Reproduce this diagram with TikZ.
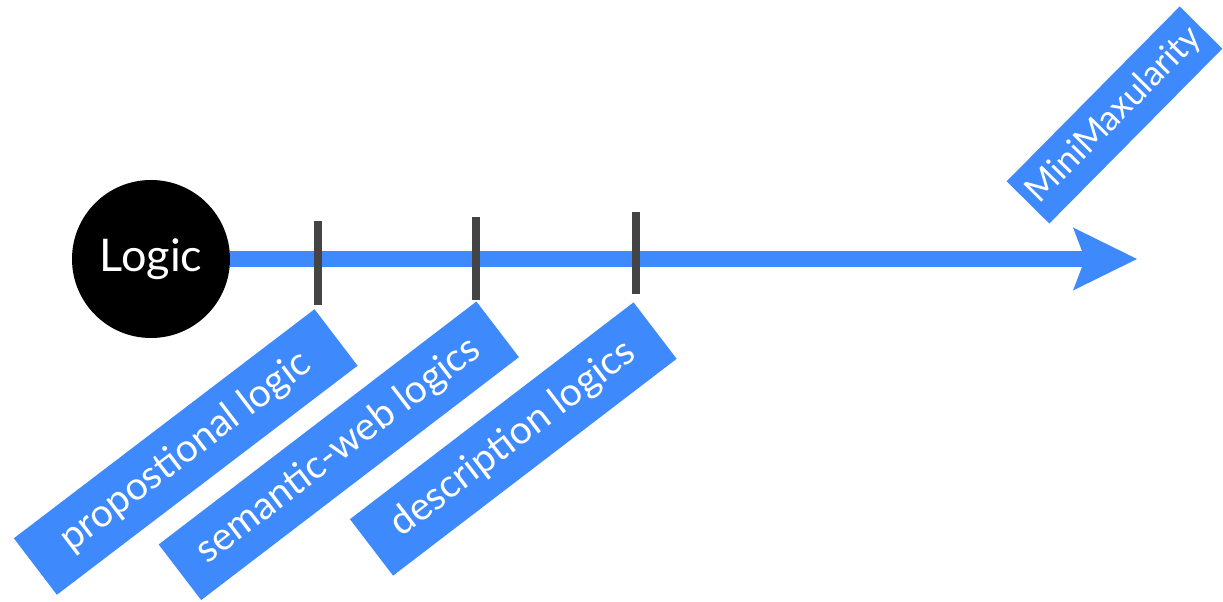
\documentclass[tikz,border=0pt]{standalone}
\usepackage{fontspec}
\newfontfamily\labelfont{Lato}
\usetikzlibrary{arrows.meta,positioning,shapes}
\usepackage{xcolor}
\definecolor{timelineblue}{RGB}{62,138,253}
\definecolor{tickgray}{RGB}{68,68,68}

\begin{document}
\begin{tikzpicture}[x=1pt, y=1pt,
    logicnode/.style={
        circle,
        fill=black,
        text=white,
        inner sep=0pt,
        minimum size=158pt,
        font=\labelfont\fontsize{45}{48}\selectfont
    },
    tickmark/.style={
        rectangle,
        fill=tickgray,
        inner sep=0pt,
        minimum width=8pt
    },
    tagbox/.style={
        rectangle,
        fill=timelineblue,
        text=white,
        inner sep=0pt,
        minimum height=71pt,
        font=\labelfont\fontsize{39}{42}\selectfont
    }]
    \useasboundingbox (0, 0) rectangle (1223, 602);

    \node (logic) [logicnode, shift={(151, 343)}]
    {
        Logic
    };

    \coordinate (tip) at (1137, 343);

    \draw[line width=16pt, timelineblue, -{Stealth[length=64pt, width=63pt, inset=12pt, line width=0pt]}] (logic) -- (tip);



    \node (tick_one) [tickmark, minimum height=84pt, shift={(318, 339)}] {};
    \node (tick_two) [tickmark, minimum height=83pt, shift={(476, 343.5)}] {};
    \node (tick_three) [tickmark, minimum height=82pt, shift={(636, 348.5)}] {};



    \node (propositional_box) [tagbox, minimum width=378pt, shift={(185.7, 150)}, rotate=37.3]
    {
        propostional logic
    };
    \node (semantic_web_box) [tagbox, minimum width=400pt, minimum height=70pt, shift={(338.8, 151.2)}, rotate=37.4]
    {
        semantic-web logics
    };
    \node (description_box) [tagbox, minimum width=357pt, shift={(513.3, 163)}, rotate=37.4]
    {
        description logics
    };


    \node (minimaxularity_box) [tagbox, minimum width=246pt, minimum height=60pt, font=\labelfont\fontsize{35}{38}\selectfont, shift={(1114.5, 487)}, rotate=45.3]
    {
        MiniMaxularity
    };


\end{tikzpicture}
\end{document}
